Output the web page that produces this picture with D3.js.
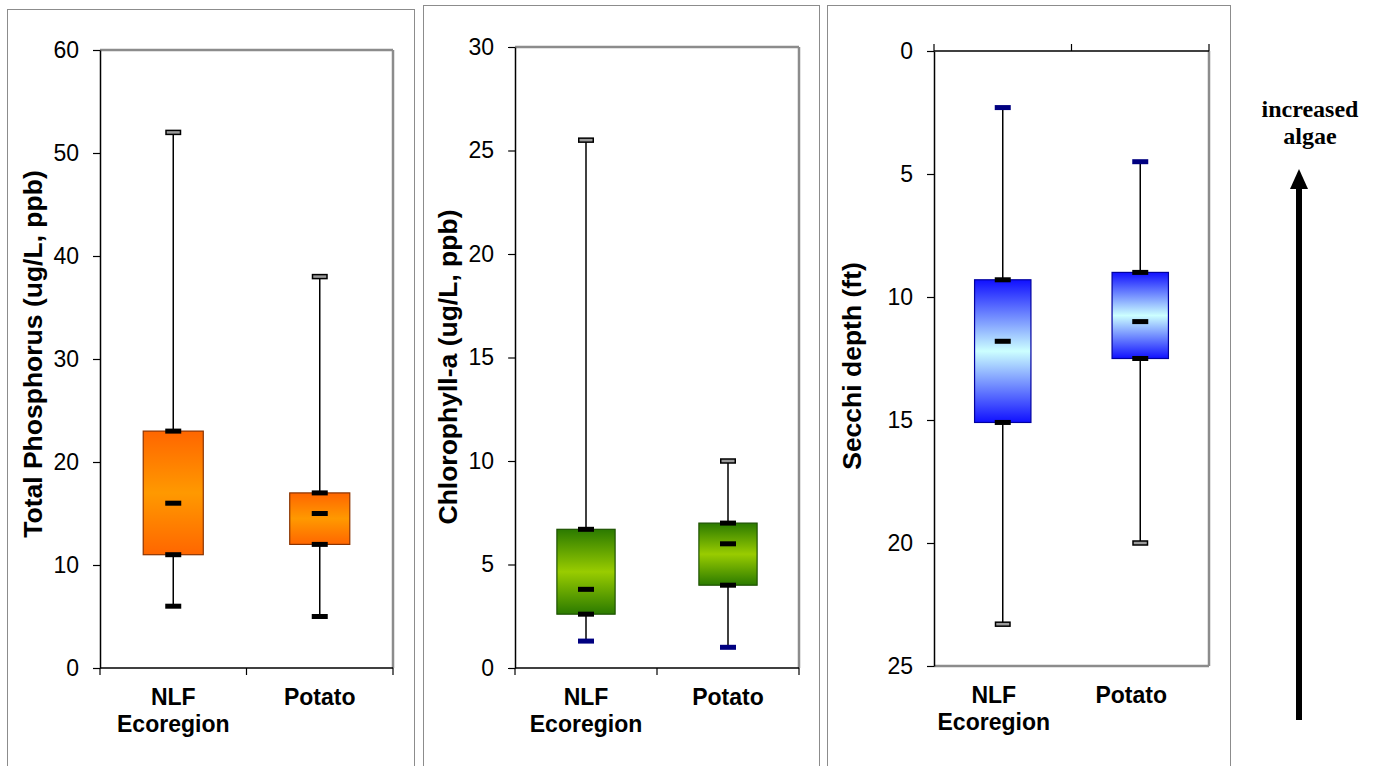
<!DOCTYPE html>
<html>
<head>
<meta charset="utf-8">
<script src="https://cdn.jsdelivr.net/npm/d3@7"></script>
<style>
  body { margin: 0; background: #fff; }
  svg { display: block; font-family: "Liberation Sans", Arial, sans-serif; }
  .tick text { font-size: 23px; fill: #000; }
</style>
</head>
<body>
<div id="chart"></div>
<script>
var svgWidth = 1375;
var svgHeight = 766;

// categories shared by all three panels
var categories = ["NLF Ecoregion", "Potato"];

// Total Phosphorus (ug/L)
var tpMin = [6, 5];
var tpQ1 = [11, 12];
var tpMedian = [16, 15];
var tpQ3 = [23, 17];
var tpMax = [52, 38];
var tpTicks = [0, 10, 20, 30, 40, 50, 60];

// Chlorophyll-a (ug/L)
var chlMin = [1.3, 1];
var chlQ1 = [2.6, 4];
var chlMedian = [3.8, 6];
var chlQ3 = [6.7, 7];
var chlMax = [25.5, 10];
var chlTicks = [0, 5, 10, 15, 20, 25, 30];

// Secchi depth (ft)
var secchiMin = [2.3, 4.5];
var secchiQ1 = [9.3, 9.0];
var secchiMedian = [11.8, 11.0];
var secchiQ3 = [15.1, 12.5];
var secchiMax = [23.3, 20];
var secchiTicks = [0, 5, 10, 15, 20, 25];

var panels = [
  {
    id: "tp", frame: { x: 7, y: 9, w: 407 },
    left: 100, right: 393, top: 50, bottom: 668,
    ticks: tpTicks, reversed: false,
    min: tpMin, q1: tpQ1, median: tpMedian, q3: tpQ3, max: tpMax,
    title: "Total Phosphorus (ug/L, ppb)", titleX: 42, titleY: 354,
    edge: "#ff6600", center: "#ff9900", stroke: "#8a3300",
    minCap: "#000", labelShift: 0
  },
  {
    id: "chl", frame: { x: 423, y: 5, w: 396 },
    left: 515, right: 799, top: 47, bottom: 668,
    ticks: chlTicks, reversed: false,
    min: chlMin, q1: chlQ1, median: chlMedian, q3: chlQ3, max: chlMax,
    title: "Chlorophyll-a (ug/L, ppb)", titleX: 457, titleY: 367,
    edge: "#2b7a00", center: "#99cc00", stroke: "#1d5200",
    minCap: "#000080", labelShift: 0
  },
  {
    id: "secchi", frame: { x: 827, y: 5, w: 403 },
    left: 934, right: 1209, top: 51, bottom: 666,
    ticks: secchiTicks, reversed: true,
    min: secchiMin, q1: secchiQ1, median: secchiMedian, q3: secchiQ3, max: secchiMax,
    title: "Secchi depth (ft)", titleX: 861, titleY: 366,
    edge: "#1010ff", center: "#ccffff", stroke: "#0000a0",
    minCap: "#000080", labelShift: -9
  }
];

var svg = d3.select("#chart")
  .append("svg")
  .attr("width", svgWidth)
  .attr("height", svgHeight);

var defs = svg.append("defs");

panels.forEach(function(p) {
  // gradient: dark at top and bottom, light in middle
  var grad = defs.append("linearGradient")
    .attr("id", "grad-" + p.id)
    .attr("x1", 0).attr("y1", 0).attr("x2", 0).attr("y2", 1);
  grad.append("stop").attr("offset", "0%").attr("stop-color", p.edge);
  grad.append("stop").attr("offset", "50%").attr("stop-color", p.center);
  grad.append("stop").attr("offset", "100%").attr("stop-color", p.edge);

  // outer frame
  svg.append("rect")
    .attr("x", p.frame.x + 0.5)
    .attr("y", p.frame.y + 0.5)
    .attr("width", p.frame.w)
    .attr("height", svgHeight + 20)
    .attr("fill", "none")
    .attr("stroke", "#8c8c8c")
    .attr("stroke-width", 1);

  var x = d3.scaleBand()
    .domain(categories)
    .range([p.left, p.right])
    .padding(0);

  var y = d3.scaleLinear()
    .domain([0, p.ticks[p.ticks.length - 1]])
    .range(p.reversed ? [p.top, p.bottom] : [p.bottom, p.top]);

  var boxW = x.bandwidth() * 0.41;
  var capW = 16;

  // gray plot border (the sides without an axis)
  var gray = svg.append("g").attr("stroke", "#8c8c8c").attr("stroke-width", 2.5).attr("fill", "none");
  gray.append("line").attr("x1", p.right).attr("x2", p.right).attr("y1", p.top).attr("y2", p.bottom);
  if (p.reversed) {
    gray.append("line").attr("x1", p.left).attr("x2", p.right).attr("y1", p.bottom).attr("y2", p.bottom);
  } else {
    gray.append("line").attr("x1", p.left).attr("x2", p.right).attr("y1", p.top).attr("y2", p.top);
  }

  // value axis
  var leftAxis = d3.axisLeft(y)
    .tickValues(p.ticks)
    .tickSize(7)
    .tickSizeOuter(0)
    .tickPadding(14);
  var gy = svg.append("g")
    .attr("transform", `translate(${p.left}, 0)`)
    .call(leftAxis);
  gy.select(".domain").attr("stroke", "#000").attr("stroke-width", 1.5);
  gy.selectAll(".tick line").attr("stroke", "#000").attr("stroke-width", 1.2);
  gy.selectAll(".tick text").style("font-family", "'Liberation Sans', Arial, sans-serif");

  // category axis line with ticks between categories
  var axisY = p.reversed ? p.top : p.bottom;
  var dir = p.reversed ? -1 : 1;
  var gx = svg.append("g");
  gx.append("line")
    .attr("x1", p.left).attr("x2", p.right)
    .attr("y1", axisY).attr("y2", axisY)
    .attr("stroke", "#000").attr("stroke-width", 1.5);
  var bounds = categories.map(function(c) { return x(c); }).concat([x.range()[1]]);
  gx.selectAll("line.cat")
    .data(bounds)
    .enter()
    .append("line")
      .attr("class", "cat")
      .attr("x1", d => d).attr("x2", d => d)
      .attr("y1", axisY).attr("y2", axisY + dir * 7)
      .attr("stroke", "#000").attr("stroke-width", 1.2);

  // category labels under the plot
  var labels = svg.append("g")
    .style("font-size", "23px")
    .style("font-weight", "bold");
  categories.forEach(function(c) {
    var t = labels.append("text")
      .attr("text-anchor", "middle")
      .attr("x", x(c) + x.bandwidth() / 2 + p.labelShift)
      .attr("y", p.bottom + 37);
    c.split(" ").forEach(function(word, i) {
      t.append("tspan")
        .attr("x", x(c) + x.bandwidth() / 2 + p.labelShift)
        .attr("dy", i === 0 ? 0 : 27)
        .text(word);
    });
  });

  // boxes
  var idx = d3.range(categories.length);
  var g = svg.append("g");
  var cx = i => x(categories[i]) + x.bandwidth() / 2;

  g.selectAll("line.whisker")
    .data(idx)
    .enter()
    .append("line")
      .attr("x1", cx).attr("x2", cx)
      .attr("y1", i => y(p.min[i]))
      .attr("y2", i => y(p.max[i]))
      .attr("stroke", "#000")
      .attr("stroke-width", 1.5);

  g.selectAll("rect.box")
    .data(idx)
    .enter()
    .append("rect")
      .attr("x", i => cx(i) - boxW / 2)
      .attr("y", i => Math.min(y(p.q1[i]), y(p.q3[i])))
      .attr("width", boxW)
      .attr("height", i => Math.abs(y(p.q1[i]) - y(p.q3[i])))
      .attr("fill", "url(#grad-" + p.id + ")")
      .attr("stroke", p.stroke)
      .attr("stroke-width", 1.2);

  // solid markers: quartiles, median, min
  function bar(values, fill) {
    g.selectAll(null)
      .data(idx)
      .enter()
      .append("rect")
        .attr("x", i => cx(i) - capW / 2)
        .attr("y", i => y(values[i]) - 2.5)
        .attr("width", capW)
        .attr("height", 5)
        .attr("fill", fill);
  }
  bar(p.q1, "#000");
  bar(p.q3, "#000");
  bar(p.median, "#000");
  bar(p.min, p.minCap);

  // max cap: black outline, gray inside
  g.selectAll(null)
    .data(idx)
    .enter()
    .append("rect")
      .attr("x", i => cx(i) - capW / 2 + 0.75)
      .attr("y", i => y(p.max[i]) - 2)
      .attr("width", capW - 1.5)
      .attr("height", 4)
      .attr("fill", "#9a9a9a")
      .attr("stroke", "#000")
      .attr("stroke-width", 1.5);

  // axis title
  svg.append("text")
    .attr("transform", `translate(${p.titleX}, ${p.titleY}) rotate(-90)`)
    .attr("text-anchor", "middle")
    .style("font-size", "26.5px")
    .style("font-weight", "bold")
    .text(p.title);
});

// annotation: increased algae arrow
var note = svg.append("g");
note.append("text")
  .attr("x", 1310)
  .attr("text-anchor", "middle")
  .style("font-family", "'Liberation Serif', 'Times New Roman', serif")
  .style("font-weight", "bold")
  .style("font-size", "24px")
  .selectAll("tspan")
  .data(["increased", "algae"])
  .enter()
  .append("tspan")
    .attr("x", 1310)
    .attr("y", (d, i) => 117 + i * 27)
    .text(d => d);
note.append("line")
  .attr("x1", 1299).attr("x2", 1299)
  .attr("y1", 720).attr("y2", 186)
  .attr("stroke", "#000")
  .attr("stroke-width", 6);
note.append("path")
  .attr("d", "M1299,169 L1308,189 L1290,189 Z")
  .attr("fill", "#000");
</script>
</body>
</html>
